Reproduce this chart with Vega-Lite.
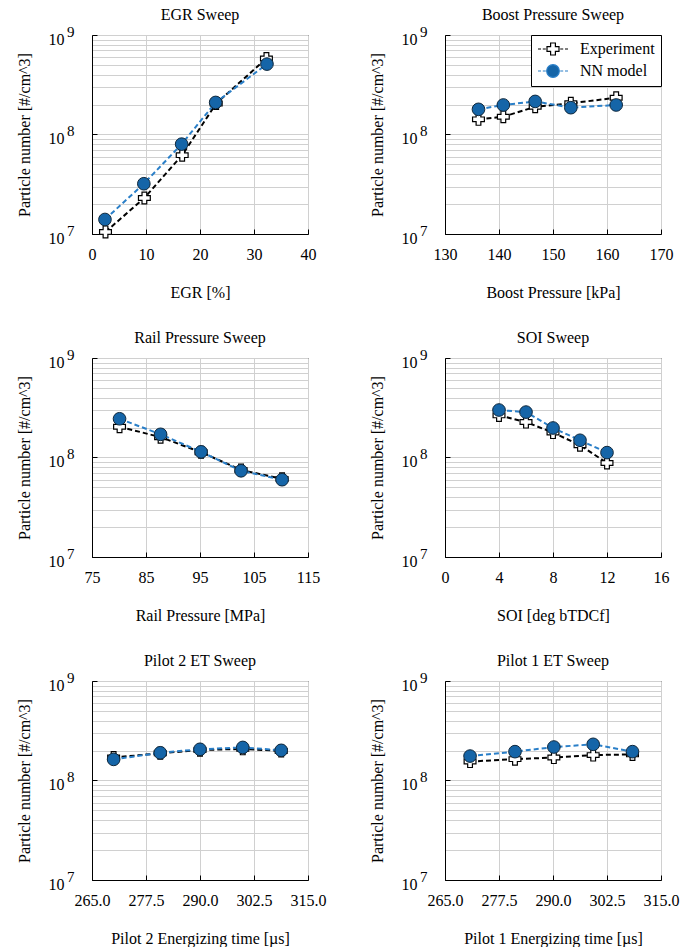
{
  "$schema": "https://vega.github.io/schema/vega-lite/v6.json",
  "padding": {"left": 15, "top": 6, "right": 0, "bottom": 0},
  "datasets": {
    "pn": [
      {"p": "EGR", "s": "Experiment", "x": 2.5, "y": 1.05e7},
      {"p": "EGR", "s": "Experiment", "x": 9.7, "y": 2.3e7},
      {"p": "EGR", "s": "Experiment", "x": 16.7, "y": 6.2e7},
      {"p": "EGR", "s": "Experiment", "x": 23.0, "y": 2.05e8},
      {"p": "EGR", "s": "Experiment", "x": 32.3, "y": 5.8e8},
      {"p": "EGR", "s": "NN model", "x": 2.4, "y": 1.4e7},
      {"p": "EGR", "s": "NN model", "x": 9.6, "y": 3.2e7},
      {"p": "EGR", "s": "NN model", "x": 16.6, "y": 8.0e7},
      {"p": "EGR", "s": "NN model", "x": 22.9, "y": 2.1e8},
      {"p": "EGR", "s": "NN model", "x": 32.4, "y": 5.1e8},
      {"p": "Boost", "s": "Experiment", "x": 136.2, "y": 1.42e8},
      {"p": "Boost", "s": "Experiment", "x": 140.8, "y": 1.51e8},
      {"p": "Boost", "s": "Experiment", "x": 146.7, "y": 1.9e8},
      {"p": "Boost", "s": "Experiment", "x": 153.3, "y": 2.06e8},
      {"p": "Boost", "s": "Experiment", "x": 161.7, "y": 2.34e8},
      {"p": "Boost", "s": "NN model", "x": 136.2, "y": 1.79e8},
      {"p": "Boost", "s": "NN model", "x": 140.8, "y": 1.98e8},
      {"p": "Boost", "s": "NN model", "x": 146.7, "y": 2.15e8},
      {"p": "Boost", "s": "NN model", "x": 153.3, "y": 1.86e8},
      {"p": "Boost", "s": "NN model", "x": 161.7, "y": 1.98e8},
      {"p": "Rail", "s": "Experiment", "x": 80.1, "y": 2.04e8},
      {"p": "Rail", "s": "Experiment", "x": 87.7, "y": 1.6e8},
      {"p": "Rail", "s": "Experiment", "x": 95.2, "y": 1.13e8},
      {"p": "Rail", "s": "Experiment", "x": 102.6, "y": 7.5e7},
      {"p": "Rail", "s": "Experiment", "x": 110.2, "y": 6.1e7},
      {"p": "Rail", "s": "NN model", "x": 80.1, "y": 2.45e8},
      {"p": "Rail", "s": "NN model", "x": 87.7, "y": 1.71e8},
      {"p": "Rail", "s": "NN model", "x": 95.2, "y": 1.14e8},
      {"p": "Rail", "s": "NN model", "x": 102.6, "y": 7.35e7},
      {"p": "Rail", "s": "NN model", "x": 110.2, "y": 5.98e7},
      {"p": "SOI", "s": "Experiment", "x": 4, "y": 2.65e8},
      {"p": "SOI", "s": "Experiment", "x": 6, "y": 2.27e8},
      {"p": "SOI", "s": "Experiment", "x": 8, "y": 1.78e8},
      {"p": "SOI", "s": "Experiment", "x": 10, "y": 1.33e8},
      {"p": "SOI", "s": "Experiment", "x": 12, "y": 8.8e7},
      {"p": "SOI", "s": "NN model", "x": 4, "y": 3.0e8},
      {"p": "SOI", "s": "NN model", "x": 6, "y": 2.86e8},
      {"p": "SOI", "s": "NN model", "x": 8, "y": 1.98e8},
      {"p": "SOI", "s": "NN model", "x": 10, "y": 1.49e8},
      {"p": "SOI", "s": "NN model", "x": 12, "y": 1.12e8},
      {"p": "P2", "s": "Experiment", "x": 270.0, "y": 1.7e8},
      {"p": "P2", "s": "Experiment", "x": 280.8, "y": 1.88e8},
      {"p": "P2", "s": "Experiment", "x": 290.0, "y": 2.02e8},
      {"p": "P2", "s": "Experiment", "x": 299.9, "y": 2.08e8},
      {"p": "P2", "s": "Experiment", "x": 308.8, "y": 1.98e8},
      {"p": "P2", "s": "NN model", "x": 270.0, "y": 1.63e8},
      {"p": "P2", "s": "NN model", "x": 280.8, "y": 1.9e8},
      {"p": "P2", "s": "NN model", "x": 290.0, "y": 2.06e8},
      {"p": "P2", "s": "NN model", "x": 299.9, "y": 2.15e8},
      {"p": "P2", "s": "NN model", "x": 308.8, "y": 2.01e8},
      {"p": "P1", "s": "Experiment", "x": 270.8, "y": 1.55e8},
      {"p": "P1", "s": "Experiment", "x": 281.2, "y": 1.64e8},
      {"p": "P1", "s": "Experiment", "x": 290.2, "y": 1.7e8},
      {"p": "P1", "s": "Experiment", "x": 299.3, "y": 1.8e8},
      {"p": "P1", "s": "Experiment", "x": 308.4, "y": 1.83e8},
      {"p": "P1", "s": "NN model", "x": 270.8, "y": 1.76e8},
      {"p": "P1", "s": "NN model", "x": 281.2, "y": 1.95e8},
      {"p": "P1", "s": "NN model", "x": 290.2, "y": 2.17e8},
      {"p": "P1", "s": "NN model", "x": 299.3, "y": 2.31e8},
      {"p": "P1", "s": "NN model", "x": 308.4, "y": 1.95e8}
    ]
  },
  "data": {"name": "pn"},
  "columns": 2,
  "bounds": "flush",
  "spacing": {"row": 124, "column": 137},
  "resolve": {
    "scale": {"shape": "independent", "fill": "independent", "stroke": "independent", "color": "independent"},
    "legend": {"shape": "independent", "fill": "independent", "stroke": "independent", "color": "independent"}
  },
  "concat": [
    {
      "title": {"text": "EGR Sweep", "font": "Liberation Serif", "fontSize": 16, "fontWeight": "normal", "color": "black", "offset": 1},
      "width": 216, "height": 199,
      "transform": [{"filter": "datum.p === 'EGR'"}],
      "encoding": {"x": {"field": "x", "type": "quantitative", "scale": {"domain": [0, 40], "nice": false, "zero": false}, "axis": {"values": [0, 10, 20, 30, 40], "title": "EGR [%]", "labelFont": "Liberation Serif", "titleFont": "Liberation Serif", "labelFontSize": 16, "titleFontSize": 16, "titleFontWeight": "normal", "labelColor": "black", "titleColor": "black", "ticks": true, "tickSize": -5, "tickColor": "black", "labelPadding": 17, "titlePadding": 22, "grid": true, "gridColor": "#d0d0d0", "domainColor": "black", "labelFlush": false, "labelOverlap": false}}},
      "layer": [
        {"transform": [{"filter": "datum.s === 'Experiment'"}], "mark": {"type": "line", "color": "black", "strokeDash": [5, 3], "strokeWidth": 2},
         "encoding": {"y": {"field": "y", "type": "quantitative", "scale": {"type": "log", "domain": [1e7, 1e9], "nice": false},
           "axis": {"title": "Particle number [#/cm^3]", "values": [1e7, 2e7, 3e7, 4e7, 5e7, 6e7, 7e7, 8e7, 9e7, 1e8, 2e8, 3e8, 4e8, 5e8, 6e8, 7e8, 8e8, 9e8, 1e9], "labelExpr": "(datum.value == 1e7 || datum.value == 1e8 || datum.value == 1e9) ? '10' : ''", "ticks": false, "labelPadding": 28, "labelOffset": 4, "grid": true, "gridColor": "#d0d0d0", "domainColor": "black", "titlePadding": 16, "labelFont": "Liberation Serif", "titleFont": "Liberation Serif", "labelFontSize": 16, "titleFontSize": 16, "titleFontWeight": "normal", "labelColor": "black", "titleColor": "black"}}}},
        {"transform": [{"filter": "datum.s === 'Experiment'"}], "mark": {"type": "point", "shape": "cross", "filled": true, "fill": "white", "stroke": "black", "strokeWidth": 1.2, "size": 140, "opacity": 1},
         "encoding": {"y": {"field": "y", "type": "quantitative", "axis": {"orient": "left", "title": null, "values": [1e7, 1e8, 1e9], "labelExpr": "datum.value == 1e7 ? '7' : datum.value == 1e8 ? '8' : '9'", "grid": false, "domain": false, "ticks": true, "tickSize": -5, "tickColor": "black", "labelPadding": 23, "labelOffset": -4, "labelFontSize": 15, "labelFont": "Liberation Serif", "labelColor": "black"}}}},
        {"transform": [{"filter": "datum.s === 'NN model'"}], "mark": {"type": "line", "color": "#2a7fc8", "strokeDash": [5, 3], "strokeWidth": 2},
         "encoding": {"y": {"field": "y", "type": "quantitative", "axis": null}}},
        {"transform": [{"filter": "datum.s === 'NN model'"}], "mark": {"type": "point", "shape": "circle", "filled": true, "fill": "#1565a8", "stroke": "#10283c", "strokeWidth": 1, "size": 160, "opacity": 1},
         "encoding": {"y": {"field": "y", "type": "quantitative", "axis": null}}}
      ],
      "resolve": {"axis": {"y": "independent"}}
    },
    {
      "title": {"text": "Boost Pressure Sweep", "font": "Liberation Serif", "fontSize": 16, "fontWeight": "normal", "color": "black", "offset": 1},
      "width": 216, "height": 199,
      "transform": [{"filter": "datum.p === 'Boost'"}],
      "encoding": {"x": {"field": "x", "type": "quantitative", "scale": {"domain": [130, 170], "nice": false, "zero": false}, "axis": {"values": [130, 140, 150, 160, 170], "title": "Boost Pressure [kPa]", "labelFont": "Liberation Serif", "titleFont": "Liberation Serif", "labelFontSize": 16, "titleFontSize": 16, "titleFontWeight": "normal", "labelColor": "black", "titleColor": "black", "ticks": true, "tickSize": -5, "tickColor": "black", "labelPadding": 17, "titlePadding": 22, "grid": true, "gridColor": "#d0d0d0", "domainColor": "black", "labelFlush": false, "labelOverlap": false}}},
      "layer": [
        {"transform": [{"filter": "datum.s === 'Experiment'"}], "mark": {"type": "line", "color": "black", "strokeDash": [5, 3], "strokeWidth": 2},
         "encoding": {"y": {"field": "y", "type": "quantitative", "scale": {"type": "log", "domain": [1e7, 1e9], "nice": false},
           "axis": {"title": "Particle number [#/cm^3]", "values": [1e7, 2e7, 3e7, 4e7, 5e7, 6e7, 7e7, 8e7, 9e7, 1e8, 2e8, 3e8, 4e8, 5e8, 6e8, 7e8, 8e8, 9e8, 1e9], "labelExpr": "(datum.value == 1e7 || datum.value == 1e8 || datum.value == 1e9) ? '10' : ''", "ticks": false, "labelPadding": 28, "labelOffset": 4, "grid": true, "gridColor": "#d0d0d0", "domainColor": "black", "titlePadding": 16, "labelFont": "Liberation Serif", "titleFont": "Liberation Serif", "labelFontSize": 16, "titleFontSize": 16, "titleFontWeight": "normal", "labelColor": "black", "titleColor": "black"}}}},
        {"transform": [{"filter": "datum.s === 'Experiment'"}], "mark": {"type": "point", "shape": "cross", "filled": true, "fill": "white", "stroke": "black", "strokeWidth": 1.2, "size": 140, "opacity": 1},
         "encoding": {"y": {"field": "y", "type": "quantitative", "axis": {"orient": "left", "title": null, "values": [1e7, 1e8, 1e9], "labelExpr": "datum.value == 1e7 ? '7' : datum.value == 1e8 ? '8' : '9'", "grid": false, "domain": false, "ticks": true, "tickSize": -5, "tickColor": "black", "labelPadding": 23, "labelOffset": -4, "labelFontSize": 15, "labelFont": "Liberation Serif", "labelColor": "black"}}}},
        {"transform": [{"filter": "datum.s === 'NN model'"}], "mark": {"type": "line", "color": "#2a7fc8", "strokeDash": [5, 3], "strokeWidth": 2},
         "encoding": {"y": {"field": "y", "type": "quantitative", "axis": null}}},
        {"transform": [{"filter": "datum.s === 'NN model'"}], "mark": {"type": "point", "shape": "circle", "filled": true, "fill": "#1565a8", "stroke": "#10283c", "strokeWidth": 1, "size": 160, "opacity": 1},
         "encoding": {"y": {"field": "y", "type": "quantitative", "axis": null}}},
        {"mark": {"type": "point", "filled": true, "opacity": 0, "size": 144},
         "encoding": {
           "y": {"field": "y", "type": "quantitative", "axis": null},
           "shape": {"field": "s", "type": "nominal", "scale": {"domain": ["Experiment", "NN model"], "range": ["M-2.5,0H-2M-1.7,0H-1.2M1.2,0H1.7M2,0H2.5M-1,-0.4H-0.4V-1H0.4V-0.4H1V0.4H0.4V1H-0.4V0.4H-1Z", "M-2.5,0H-2M-1.7,0H-1.2M1.2,0H1.7M2,0H2.5M1.05,0A1.05,1.05 0 1,1 -1.05,0A1.05,1.05 0 1,1 1.05,0Z"]},
             "legend": {"title": null, "orient": "top-right", "offset": 0, "symbolOpacity": 1, "symbolSize": 144, "symbolStrokeWidth": 1.2, "symbolOffset": 8, "labelOffset": 19, "strokeColor": "black", "fillColor": "white", "padding": 6, "rowPadding": 4, "labelFontSize": 16, "labelFont": "Liberation Serif", "labelColor": "black"}},
           "fill": {"field": "s", "type": "nominal", "scale": {"domain": ["Experiment", "NN model"], "range": ["white", "#1565a8"]}},
           "stroke": {"field": "s", "type": "nominal", "scale": {"domain": ["Experiment", "NN model"], "range": ["black", "#2a7fc8"]}}
         }}
      ],
      "resolve": {"axis": {"y": "independent"}}
    },
    {
      "title": {"text": "Rail Pressure Sweep", "font": "Liberation Serif", "fontSize": 16, "fontWeight": "normal", "color": "black", "offset": 1},
      "width": 216, "height": 199,
      "transform": [{"filter": "datum.p === 'Rail'"}],
      "encoding": {"x": {"field": "x", "type": "quantitative", "scale": {"domain": [75, 115], "nice": false, "zero": false}, "axis": {"values": [75, 85, 95, 105, 115], "title": "Rail Pressure [MPa]", "labelFont": "Liberation Serif", "titleFont": "Liberation Serif", "labelFontSize": 16, "titleFontSize": 16, "titleFontWeight": "normal", "labelColor": "black", "titleColor": "black", "ticks": true, "tickSize": -5, "tickColor": "black", "labelPadding": 17, "titlePadding": 22, "grid": true, "gridColor": "#d0d0d0", "domainColor": "black", "labelFlush": false, "labelOverlap": false}}},
      "layer": [
        {"transform": [{"filter": "datum.s === 'Experiment'"}], "mark": {"type": "line", "color": "black", "strokeDash": [5, 3], "strokeWidth": 2},
         "encoding": {"y": {"field": "y", "type": "quantitative", "scale": {"type": "log", "domain": [1e7, 1e9], "nice": false},
           "axis": {"title": "Particle number [#/cm^3]", "values": [1e7, 2e7, 3e7, 4e7, 5e7, 6e7, 7e7, 8e7, 9e7, 1e8, 2e8, 3e8, 4e8, 5e8, 6e8, 7e8, 8e8, 9e8, 1e9], "labelExpr": "(datum.value == 1e7 || datum.value == 1e8 || datum.value == 1e9) ? '10' : ''", "ticks": false, "labelPadding": 28, "labelOffset": 4, "grid": true, "gridColor": "#d0d0d0", "domainColor": "black", "titlePadding": 16, "labelFont": "Liberation Serif", "titleFont": "Liberation Serif", "labelFontSize": 16, "titleFontSize": 16, "titleFontWeight": "normal", "labelColor": "black", "titleColor": "black"}}}},
        {"transform": [{"filter": "datum.s === 'Experiment'"}], "mark": {"type": "point", "shape": "cross", "filled": true, "fill": "white", "stroke": "black", "strokeWidth": 1.2, "size": 140, "opacity": 1},
         "encoding": {"y": {"field": "y", "type": "quantitative", "axis": {"orient": "left", "title": null, "values": [1e7, 1e8, 1e9], "labelExpr": "datum.value == 1e7 ? '7' : datum.value == 1e8 ? '8' : '9'", "grid": false, "domain": false, "ticks": true, "tickSize": -5, "tickColor": "black", "labelPadding": 23, "labelOffset": -4, "labelFontSize": 15, "labelFont": "Liberation Serif", "labelColor": "black"}}}},
        {"transform": [{"filter": "datum.s === 'NN model'"}], "mark": {"type": "line", "color": "#2a7fc8", "strokeDash": [5, 3], "strokeWidth": 2},
         "encoding": {"y": {"field": "y", "type": "quantitative", "axis": null}}},
        {"transform": [{"filter": "datum.s === 'NN model'"}], "mark": {"type": "point", "shape": "circle", "filled": true, "fill": "#1565a8", "stroke": "#10283c", "strokeWidth": 1, "size": 160, "opacity": 1},
         "encoding": {"y": {"field": "y", "type": "quantitative", "axis": null}}}
      ],
      "resolve": {"axis": {"y": "independent"}}
    },
    {
      "title": {"text": "SOI Sweep", "font": "Liberation Serif", "fontSize": 16, "fontWeight": "normal", "color": "black", "offset": 1},
      "width": 216, "height": 199,
      "transform": [{"filter": "datum.p === 'SOI'"}],
      "encoding": {"x": {"field": "x", "type": "quantitative", "scale": {"domain": [0, 16], "nice": false, "zero": false}, "axis": {"values": [0, 4, 8, 12, 16], "title": "SOI [deg bTDCf]", "labelFont": "Liberation Serif", "titleFont": "Liberation Serif", "labelFontSize": 16, "titleFontSize": 16, "titleFontWeight": "normal", "labelColor": "black", "titleColor": "black", "ticks": true, "tickSize": -5, "tickColor": "black", "labelPadding": 17, "titlePadding": 22, "grid": true, "gridColor": "#d0d0d0", "domainColor": "black", "labelFlush": false, "labelOverlap": false}}},
      "layer": [
        {"transform": [{"filter": "datum.s === 'Experiment'"}], "mark": {"type": "line", "color": "black", "strokeDash": [5, 3], "strokeWidth": 2},
         "encoding": {"y": {"field": "y", "type": "quantitative", "scale": {"type": "log", "domain": [1e7, 1e9], "nice": false},
           "axis": {"title": "Particle number [#/cm^3]", "values": [1e7, 2e7, 3e7, 4e7, 5e7, 6e7, 7e7, 8e7, 9e7, 1e8, 2e8, 3e8, 4e8, 5e8, 6e8, 7e8, 8e8, 9e8, 1e9], "labelExpr": "(datum.value == 1e7 || datum.value == 1e8 || datum.value == 1e9) ? '10' : ''", "ticks": false, "labelPadding": 28, "labelOffset": 4, "grid": true, "gridColor": "#d0d0d0", "domainColor": "black", "titlePadding": 16, "labelFont": "Liberation Serif", "titleFont": "Liberation Serif", "labelFontSize": 16, "titleFontSize": 16, "titleFontWeight": "normal", "labelColor": "black", "titleColor": "black"}}}},
        {"transform": [{"filter": "datum.s === 'Experiment'"}], "mark": {"type": "point", "shape": "cross", "filled": true, "fill": "white", "stroke": "black", "strokeWidth": 1.2, "size": 140, "opacity": 1},
         "encoding": {"y": {"field": "y", "type": "quantitative", "axis": {"orient": "left", "title": null, "values": [1e7, 1e8, 1e9], "labelExpr": "datum.value == 1e7 ? '7' : datum.value == 1e8 ? '8' : '9'", "grid": false, "domain": false, "ticks": true, "tickSize": -5, "tickColor": "black", "labelPadding": 23, "labelOffset": -4, "labelFontSize": 15, "labelFont": "Liberation Serif", "labelColor": "black"}}}},
        {"transform": [{"filter": "datum.s === 'NN model'"}], "mark": {"type": "line", "color": "#2a7fc8", "strokeDash": [5, 3], "strokeWidth": 2},
         "encoding": {"y": {"field": "y", "type": "quantitative", "axis": null}}},
        {"transform": [{"filter": "datum.s === 'NN model'"}], "mark": {"type": "point", "shape": "circle", "filled": true, "fill": "#1565a8", "stroke": "#10283c", "strokeWidth": 1, "size": 160, "opacity": 1},
         "encoding": {"y": {"field": "y", "type": "quantitative", "axis": null}}}
      ],
      "resolve": {"axis": {"y": "independent"}}
    },
    {
      "title": {"text": "Pilot 2 ET Sweep", "font": "Liberation Serif", "fontSize": 16, "fontWeight": "normal", "color": "black", "offset": 1},
      "width": 216, "height": 199,
      "transform": [{"filter": "datum.p === 'P2'"}],
      "encoding": {"x": {"field": "x", "type": "quantitative", "scale": {"domain": [265, 315], "nice": false, "zero": false}, "axis": {"values": [265, 277.5, 290, 302.5, 315], "format": ".1f", "title": "Pilot 2 Energizing time [µs]", "labelFont": "Liberation Serif", "titleFont": "Liberation Serif", "labelFontSize": 16, "titleFontSize": 16, "titleFontWeight": "normal", "labelColor": "black", "titleColor": "black", "ticks": true, "tickSize": -5, "tickColor": "black", "labelPadding": 17, "titlePadding": 22, "grid": true, "gridColor": "#d0d0d0", "domainColor": "black", "labelFlush": false, "labelOverlap": false}}},
      "layer": [
        {"transform": [{"filter": "datum.s === 'Experiment'"}], "mark": {"type": "line", "color": "black", "strokeDash": [5, 3], "strokeWidth": 2},
         "encoding": {"y": {"field": "y", "type": "quantitative", "scale": {"type": "log", "domain": [1e7, 1e9], "nice": false},
           "axis": {"title": "Particle number [#/cm^3]", "values": [1e7, 2e7, 3e7, 4e7, 5e7, 6e7, 7e7, 8e7, 9e7, 1e8, 2e8, 3e8, 4e8, 5e8, 6e8, 7e8, 8e8, 9e8, 1e9], "labelExpr": "(datum.value == 1e7 || datum.value == 1e8 || datum.value == 1e9) ? '10' : ''", "ticks": false, "labelPadding": 28, "labelOffset": 4, "grid": true, "gridColor": "#d0d0d0", "domainColor": "black", "titlePadding": 16, "labelFont": "Liberation Serif", "titleFont": "Liberation Serif", "labelFontSize": 16, "titleFontSize": 16, "titleFontWeight": "normal", "labelColor": "black", "titleColor": "black"}}}},
        {"transform": [{"filter": "datum.s === 'Experiment'"}], "mark": {"type": "point", "shape": "cross", "filled": true, "fill": "white", "stroke": "black", "strokeWidth": 1.2, "size": 140, "opacity": 1},
         "encoding": {"y": {"field": "y", "type": "quantitative", "axis": {"orient": "left", "title": null, "values": [1e7, 1e8, 1e9], "labelExpr": "datum.value == 1e7 ? '7' : datum.value == 1e8 ? '8' : '9'", "grid": false, "domain": false, "ticks": true, "tickSize": -5, "tickColor": "black", "labelPadding": 23, "labelOffset": -4, "labelFontSize": 15, "labelFont": "Liberation Serif", "labelColor": "black"}}}},
        {"transform": [{"filter": "datum.s === 'NN model'"}], "mark": {"type": "line", "color": "#2a7fc8", "strokeDash": [5, 3], "strokeWidth": 2},
         "encoding": {"y": {"field": "y", "type": "quantitative", "axis": null}}},
        {"transform": [{"filter": "datum.s === 'NN model'"}], "mark": {"type": "point", "shape": "circle", "filled": true, "fill": "#1565a8", "stroke": "#10283c", "strokeWidth": 1, "size": 160, "opacity": 1},
         "encoding": {"y": {"field": "y", "type": "quantitative", "axis": null}}}
      ],
      "resolve": {"axis": {"y": "independent"}}
    },
    {
      "title": {"text": "Pilot 1 ET Sweep", "font": "Liberation Serif", "fontSize": 16, "fontWeight": "normal", "color": "black", "offset": 1},
      "width": 216, "height": 199,
      "transform": [{"filter": "datum.p === 'P1'"}],
      "encoding": {"x": {"field": "x", "type": "quantitative", "scale": {"domain": [265, 315], "nice": false, "zero": false}, "axis": {"values": [265, 277.5, 290, 302.5, 315], "format": ".1f", "title": "Pilot 1 Energizing time [µs]", "labelFont": "Liberation Serif", "titleFont": "Liberation Serif", "labelFontSize": 16, "titleFontSize": 16, "titleFontWeight": "normal", "labelColor": "black", "titleColor": "black", "ticks": true, "tickSize": -5, "tickColor": "black", "labelPadding": 17, "titlePadding": 22, "grid": true, "gridColor": "#d0d0d0", "domainColor": "black", "labelFlush": false, "labelOverlap": false}}},
      "layer": [
        {"transform": [{"filter": "datum.s === 'Experiment'"}], "mark": {"type": "line", "color": "black", "strokeDash": [5, 3], "strokeWidth": 2},
         "encoding": {"y": {"field": "y", "type": "quantitative", "scale": {"type": "log", "domain": [1e7, 1e9], "nice": false},
           "axis": {"title": "Particle number [#/cm^3]", "values": [1e7, 2e7, 3e7, 4e7, 5e7, 6e7, 7e7, 8e7, 9e7, 1e8, 2e8, 3e8, 4e8, 5e8, 6e8, 7e8, 8e8, 9e8, 1e9], "labelExpr": "(datum.value == 1e7 || datum.value == 1e8 || datum.value == 1e9) ? '10' : ''", "ticks": false, "labelPadding": 28, "labelOffset": 4, "grid": true, "gridColor": "#d0d0d0", "domainColor": "black", "titlePadding": 16, "labelFont": "Liberation Serif", "titleFont": "Liberation Serif", "labelFontSize": 16, "titleFontSize": 16, "titleFontWeight": "normal", "labelColor": "black", "titleColor": "black"}}}},
        {"transform": [{"filter": "datum.s === 'Experiment'"}], "mark": {"type": "point", "shape": "cross", "filled": true, "fill": "white", "stroke": "black", "strokeWidth": 1.2, "size": 140, "opacity": 1},
         "encoding": {"y": {"field": "y", "type": "quantitative", "axis": {"orient": "left", "title": null, "values": [1e7, 1e8, 1e9], "labelExpr": "datum.value == 1e7 ? '7' : datum.value == 1e8 ? '8' : '9'", "grid": false, "domain": false, "ticks": true, "tickSize": -5, "tickColor": "black", "labelPadding": 23, "labelOffset": -4, "labelFontSize": 15, "labelFont": "Liberation Serif", "labelColor": "black"}}}},
        {"transform": [{"filter": "datum.s === 'NN model'"}], "mark": {"type": "line", "color": "#2a7fc8", "strokeDash": [5, 3], "strokeWidth": 2},
         "encoding": {"y": {"field": "y", "type": "quantitative", "axis": null}}},
        {"transform": [{"filter": "datum.s === 'NN model'"}], "mark": {"type": "point", "shape": "circle", "filled": true, "fill": "#1565a8", "stroke": "#10283c", "strokeWidth": 1, "size": 160, "opacity": 1},
         "encoding": {"y": {"field": "y", "type": "quantitative", "axis": null}}}
      ],
      "resolve": {"axis": {"y": "independent"}}
    }
  ],
  "config": {
    "font": "Liberation Serif",
    "view": {"stroke": "black", "strokeWidth": 1}
  }
}
